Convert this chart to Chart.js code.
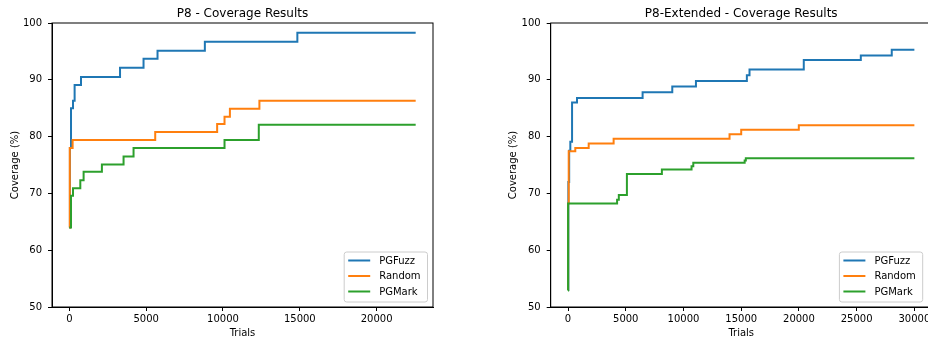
<!DOCTYPE html>
<html><head><meta charset="utf-8">
<script src="https://cdn.jsdelivr.net/npm/chart.js@4.4.0/dist/chart.umd.min.js"></script>
<style>
html,body{margin:0;padding:0;background:#fff;overflow:hidden;width:928px;height:342px;}
#wrap{position:relative;width:928px;height:342px;overflow:hidden;background:#fff;}
canvas{position:absolute;top:0;}
</style></head><body>
<div id="wrap">
<canvas id="c1" width="464" height="342" style="left:0;width:464px;height:342px"></canvas>
<canvas id="c2" width="496" height="342" style="left:464px;width:496px;height:342px"></canvas>
</div>
<script>
// ---- data ----
const seriesNames = ['PGFuzz', 'Random', 'PGMark'];
const seriesColors = ['#1f77b4', '#ff7f0e', '#2ca02c'];
const chartTitles = ['P8 - Coverage Results', 'P8-Extended - Coverage Results'];
const xAxisLabel = 'Trials';
const yAxisLabel = 'Coverage (%)';
const yTickValues = [50, 60, 70, 80, 90, 100];
const p8TickValues = [0, 5000, 10000, 15000, 20000];
const extTickValues = [0, 5000, 10000, 15000, 20000, 25000, 30000];

// P8
const p8FuzzX   = [0, 40, 110, 240, 345, 760, 3300, 4830, 5740, 8820, 14840, 22540];
const p8FuzzY   = [64.0, 78.0, 85.0, 86.3, 89.1, 90.5, 92.1, 93.7, 95.1, 96.7, 98.3, 98.3];
const p8RandX   = [0, 30, 215, 5590, 9620, 10100, 10450, 12370, 22540];
const p8RandY   = [64.0, 78.0, 79.4, 80.8, 82.2, 83.5, 84.9, 86.3, 86.3];
const p8MarkX   = [0, 110, 240, 715, 930, 2120, 3530, 4180, 10100, 12330, 22540];
const p8MarkY   = [64.0, 69.6, 70.9, 72.3, 73.8, 75.1, 76.5, 78.0, 79.4, 82.1, 82.1];

// P8-Extended
const extFuzzX  = [0, 30, 100, 200, 350, 780, 6460, 9030, 11080, 15490, 15720, 20420, 25360, 28040, 30000];
const extFuzzY  = [53.0, 72.0, 77.5, 79.1, 86.0, 86.8, 87.8, 88.8, 89.8, 90.8, 91.8, 93.5, 94.3, 95.3, 95.3];
const extRandX  = [0, 10, 60, 630, 1790, 3950, 13990, 15000, 19990, 30000];
const extRandY  = [53.0, 68.2, 77.4, 78.0, 78.8, 79.6, 80.4, 81.2, 82.0, 82.0];
const extMarkX  = [0, 5, 4250, 4400, 5100, 8130, 10700, 10850, 15300, 15400, 30000];
const extMarkY  = [52.9, 68.2, 68.9, 69.7, 73.4, 74.2, 74.8, 75.4, 75.8, 76.2, 76.2];

// ---- helpers ----
const FONT = 'DejaVu Sans';
function pts(xs, ys) { return xs.map((x, i) => ({ x: x, y: ys[i] })); }

function makeDatasets(series) {
  return series.map((s, i) => ({
    label: seriesNames[i],
    data: pts(s[0], s[1]),
    borderColor: seriesColors[i],
    backgroundColor: seriesColors[i],
    borderWidth: 2,
    pointRadius: 0,
    stepped: 'before',
    fill: false,
    order: series.length - 1 - i
  }));
}

const decorPlugin = {
  id: 'decor',
  afterDraw(chart, args, opts) {
    const ctx = chart.ctx, a = chart.chartArea;
    ctx.save();
    // frame
    ctx.strokeStyle = '#000';
    ctx.lineWidth = 1;
    ctx.strokeRect(a.left, a.top, a.right - a.left, a.bottom - a.top);
    // title
    ctx.fillStyle = '#000';
    ctx.font = '12px "' + FONT + '"';
    ctx.textAlign = 'center';
    ctx.textBaseline = 'middle';
    ctx.fillText(opts.title, (a.left + a.right) / 2, 13.5);
    // legend
    const bw = 83.3, bh = 50;
    const bx = a.right - opts.legendInset - bw;
    const by = a.bottom - 5 - bh;
    ctx.beginPath();
    const r = 2.5;
    ctx.moveTo(bx + r, by);
    ctx.lineTo(bx + bw - r, by); ctx.arcTo(bx + bw, by, bx + bw, by + r, r);
    ctx.lineTo(bx + bw, by + bh - r); ctx.arcTo(bx + bw, by + bh, bx + bw - r, by + bh, r);
    ctx.lineTo(bx + r, by + bh); ctx.arcTo(bx, by + bh, bx, by + bh - r, r);
    ctx.lineTo(bx, by + r); ctx.arcTo(bx, by, bx + r, by, r);
    ctx.closePath();
    ctx.fillStyle = 'rgba(255,255,255,0.8)';
    ctx.fill();
    ctx.strokeStyle = '#cccccc';
    ctx.lineWidth = 1;
    ctx.stroke();
    ctx.font = '10px "' + FONT + '"';
    ctx.textAlign = 'left';
    ctx.textBaseline = 'middle';
    chart.data.datasets.forEach((ds, i) => {
      const yy = by + 8.5 + i * 15.5;
      ctx.strokeStyle = ds.borderColor;
      ctx.lineWidth = 2;
      ctx.beginPath();
      ctx.moveTo(bx + 4, yy);
      ctx.lineTo(bx + 26, yy);
      ctx.stroke();
      ctx.fillStyle = '#000';
      ctx.fillText(ds.label, bx + 35, yy + 0.5);
    });
    ctx.restore();
  }
};

function makeScales(xTicks, xmin, xmax) {
  const tickFont = { size: 10, family: FONT };
  return {
    x: {
      type: 'linear', min: xmin, max: xmax,
      afterBuildTicks(s) { s.ticks = xTicks.map(v => ({ value: v })); },
      afterFit(s) { s.height = 35; },
      ticks: { color: '#000', font: tickFont, padding: 2, maxRotation: 0, autoSkip: false,
               callback: v => String(v) },
      grid: { drawOnChartArea: false, drawTicks: true, tickLength: 4, color: '#000', tickWidth: 1 },
      border: { display: true, color: '#000', width: 1 },
      title: { display: true, text: xAxisLabel, color: '#000', font: tickFont, padding: { top: 0, bottom: 3 } }
    },
    y: {
      type: 'linear', min: 50, max: 100,
      afterBuildTicks(s) { s.ticks = yTickValues.map(v => ({ value: v })); },
      afterFit(s) { s.width = 52; },
      ticks: { color: '#000', font: tickFont, padding: 6, autoSkip: false, callback: v => String(v) },
      grid: { drawOnChartArea: false, drawTicks: true, tickLength: 4, color: '#000', tickWidth: 1 },
      border: { display: true, color: '#000', width: 1 },
      title: { display: true, text: yAxisLabel, color: '#000', font: tickFont, padding: { top: 9, bottom: 0 } }
    }
  };
}

function makeChart(id, series, xTicks, xmin, xmax, padding, title, legendInset) {
  return new Chart(document.getElementById(id), {
    type: 'line',
    data: { datasets: makeDatasets(series) },
    options: {
      responsive: false,
      animation: false,
      devicePixelRatio: 1,
      parsing: true,
      layout: { padding: padding },
      plugins: {
        legend: { display: false },
        title: { display: false },
        tooltip: { enabled: false },
        decor: { title: title, legendInset: legendInset }
      },
      scales: makeScales(xTicks, xmin, xmax)
    },
    plugins: [decorPlugin]
  });
}

makeChart('c1',
  [[p8FuzzX, p8FuzzY], [p8RandX, p8RandY], [p8MarkX, p8MarkY]],
  p8TickValues, -1127, 23667,
  { left: 0, right: 31, top: 23, bottom: 0 },
  chartTitles[0], 5.5);

makeChart('c2',
  [[extFuzzX, extFuzzY], [extRandX, extRandY], [extMarkX, extMarkY]],
  extTickValues, -1500, 31500,
  { left: 34.7, right: 28.3, top: 23, bottom: 0 },
  chartTitles[1], 9);
</script>
</body></html>
